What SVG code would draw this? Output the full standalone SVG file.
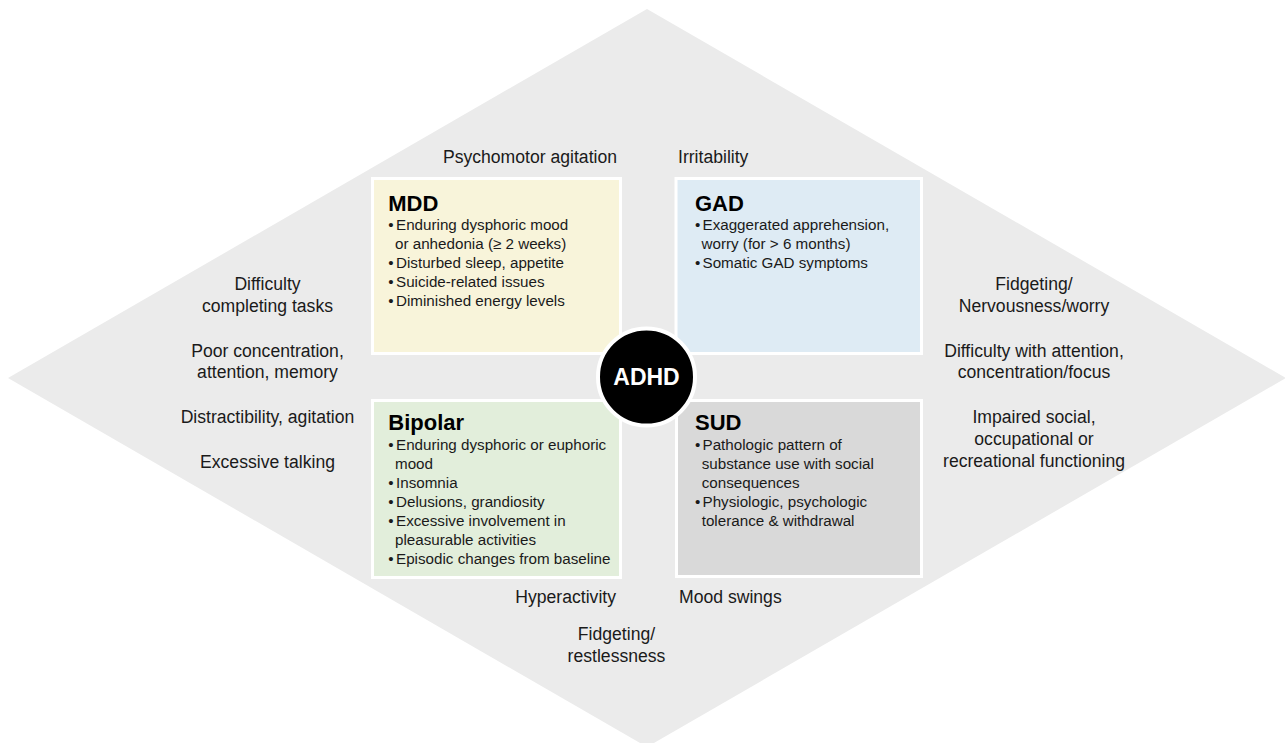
<svg xmlns="http://www.w3.org/2000/svg" width="1285" height="743" viewBox="0 0 1285 743">
  <style>
    .lbl { font-family: "Liberation Sans", Arial, sans-serif; font-size: 17.6px; fill: #1a1a1a; }
    .mid { text-anchor: middle; }
    .end { text-anchor: end; }
    .box { stroke: #ffffff; stroke-width: 3; }
    .ttl { font-family: "Liberation Sans", Arial, sans-serif; font-size: 22px; font-weight: bold; fill: #000000; }
    .itm { font-family: "Liberation Sans", Arial, sans-serif; font-size: 15.2px; fill: #1a1a1a; }
  </style>

  <!-- background diamond -->
  <polygon id="backdrop" points="647,9 1286,378 647,747 8,378" fill="#ebebeb"/>

  <!-- outer symptom labels -->
  <g id="labels">
    <text class="lbl end" x="617" y="162.7">Psychomotor agitation</text>
    <text class="lbl" x="678" y="162.7">Irritability</text>

    <text class="lbl mid" x="267.5" y="290">Difficulty</text>
    <text class="lbl mid" x="267.5" y="311.7">completing tasks</text>
    <text class="lbl mid" x="267.5" y="356.7">Poor concentration,</text>
    <text class="lbl mid" x="267.5" y="378.3">attention, memory</text>
    <text class="lbl mid" x="267.5" y="423.3">Distractibility, agitation</text>
    <text class="lbl mid" x="267.5" y="467.8">Excessive talking</text>

    <text class="lbl mid" x="1034" y="290">Fidgeting/</text>
    <text class="lbl mid" x="1034" y="311.7">Nervousness/worry</text>
    <text class="lbl mid" x="1034" y="356.7">Difficulty with attention,</text>
    <text class="lbl mid" x="1034" y="378.3">concentration/focus</text>
    <text class="lbl mid" x="1034" y="423.3">Impaired social,</text>
    <text class="lbl mid" x="1034" y="445">occupational or</text>
    <text class="lbl mid" x="1034" y="466.7">recreational functioning</text>

    <text class="lbl end" x="616" y="602.7">Hyperactivity</text>
    <text class="lbl" x="679" y="602.7">Mood swings</text>
    <text class="lbl mid" x="616.5" y="640">Fidgeting/</text>
    <text class="lbl mid" x="616.5" y="661.7">restlessness</text>
  </g>

  <!-- MDD -->
  <g id="mdd">
    <rect class="box" x="372.5" y="178.5" width="248" height="175" fill="#f8f4da"/>
    <text class="ttl" x="388.3" y="210.7">MDD</text>
    <text class="itm"><tspan x="388.3" y="230">•</tspan><tspan x="396" y="230">Enduring dysphoric mood</tspan></text>
    <text class="itm" x="395" y="249">or anhedonia (≥ 2 weeks)</text>
    <text class="itm"><tspan x="388.3" y="267.7">•</tspan><tspan x="396" y="267.7">Disturbed sleep, appetite</tspan></text>
    <text class="itm"><tspan x="388.3" y="286.7">•</tspan><tspan x="396" y="286.7">Suicide-related issues</tspan></text>
    <text class="itm"><tspan x="388.3" y="306">•</tspan><tspan x="396" y="306">Diminished energy levels</tspan></text>
  </g>

  <!-- GAD -->
  <g id="gad">
    <rect class="box" x="676" y="178.5" width="245.5" height="175" fill="#deebf4"/>
    <text class="ttl" x="695" y="210.7">GAD</text>
    <text class="itm"><tspan x="695" y="230">•</tspan><tspan x="702.5" y="230">Exaggerated apprehension,</tspan></text>
    <text class="itm" x="701.5" y="249">worry (for &gt; 6 months)</text>
    <text class="itm"><tspan x="695" y="267.7">•</tspan><tspan x="702.5" y="267.7">Somatic GAD symptoms</tspan></text>
  </g>

  <!-- Bipolar -->
  <g id="bipolar">
    <rect class="box" x="372.5" y="400.5" width="248" height="177" fill="#e2eedb"/>
    <text class="ttl" x="388.3" y="430">Bipolar</text>
    <text class="itm"><tspan x="388.3" y="450">•</tspan><tspan x="396" y="450">Enduring dysphoric or euphoric</tspan></text>
    <text class="itm" x="395" y="468.7">mood</text>
    <text class="itm"><tspan x="388.3" y="488.3">•</tspan><tspan x="396" y="488.3">Insomnia</tspan></text>
    <text class="itm"><tspan x="388.3" y="507.3">•</tspan><tspan x="396" y="507.3">Delusions, grandiosity</tspan></text>
    <text class="itm"><tspan x="388.3" y="526">•</tspan><tspan x="396" y="526">Excessive involvement in</tspan></text>
    <text class="itm" x="395" y="545">pleasurable activities</text>
    <text class="itm"><tspan x="388.3" y="564.3">•</tspan><tspan x="396" y="564.3">Episodic changes from baseline</tspan></text>
  </g>

  <!-- SUD -->
  <g id="sud">
    <rect class="box" x="676.5" y="400.5" width="245" height="176" fill="#d9d9d9"/>
    <text class="ttl" x="695" y="430">SUD</text>
    <text class="itm"><tspan x="695" y="450">•</tspan><tspan x="702.5" y="450">Pathologic pattern of</tspan></text>
    <text class="itm" x="701.7" y="468.7">substance use with social</text>
    <text class="itm" x="701.7" y="488.3">consequences</text>
    <text class="itm"><tspan x="695" y="507.3">•</tspan><tspan x="702.5" y="507.3">Physiologic, psychologic</tspan></text>
    <text class="itm" x="701.7" y="526">tolerance &amp; withdrawal</text>
  </g>

  <!-- central hub -->
  <g id="adhd">
    <circle cx="646.5" cy="377" r="48.5" fill="#000000" stroke="#ffffff" stroke-width="4"/>
    <text x="646.5" y="384.5" text-anchor="middle" font-family="Liberation Sans, Arial, sans-serif" font-size="23" font-weight="bold" fill="#ffffff">ADHD</text>
  </g>

  <!-- no connectors in this figure -->
  <g id="connectors"/>
</svg>
